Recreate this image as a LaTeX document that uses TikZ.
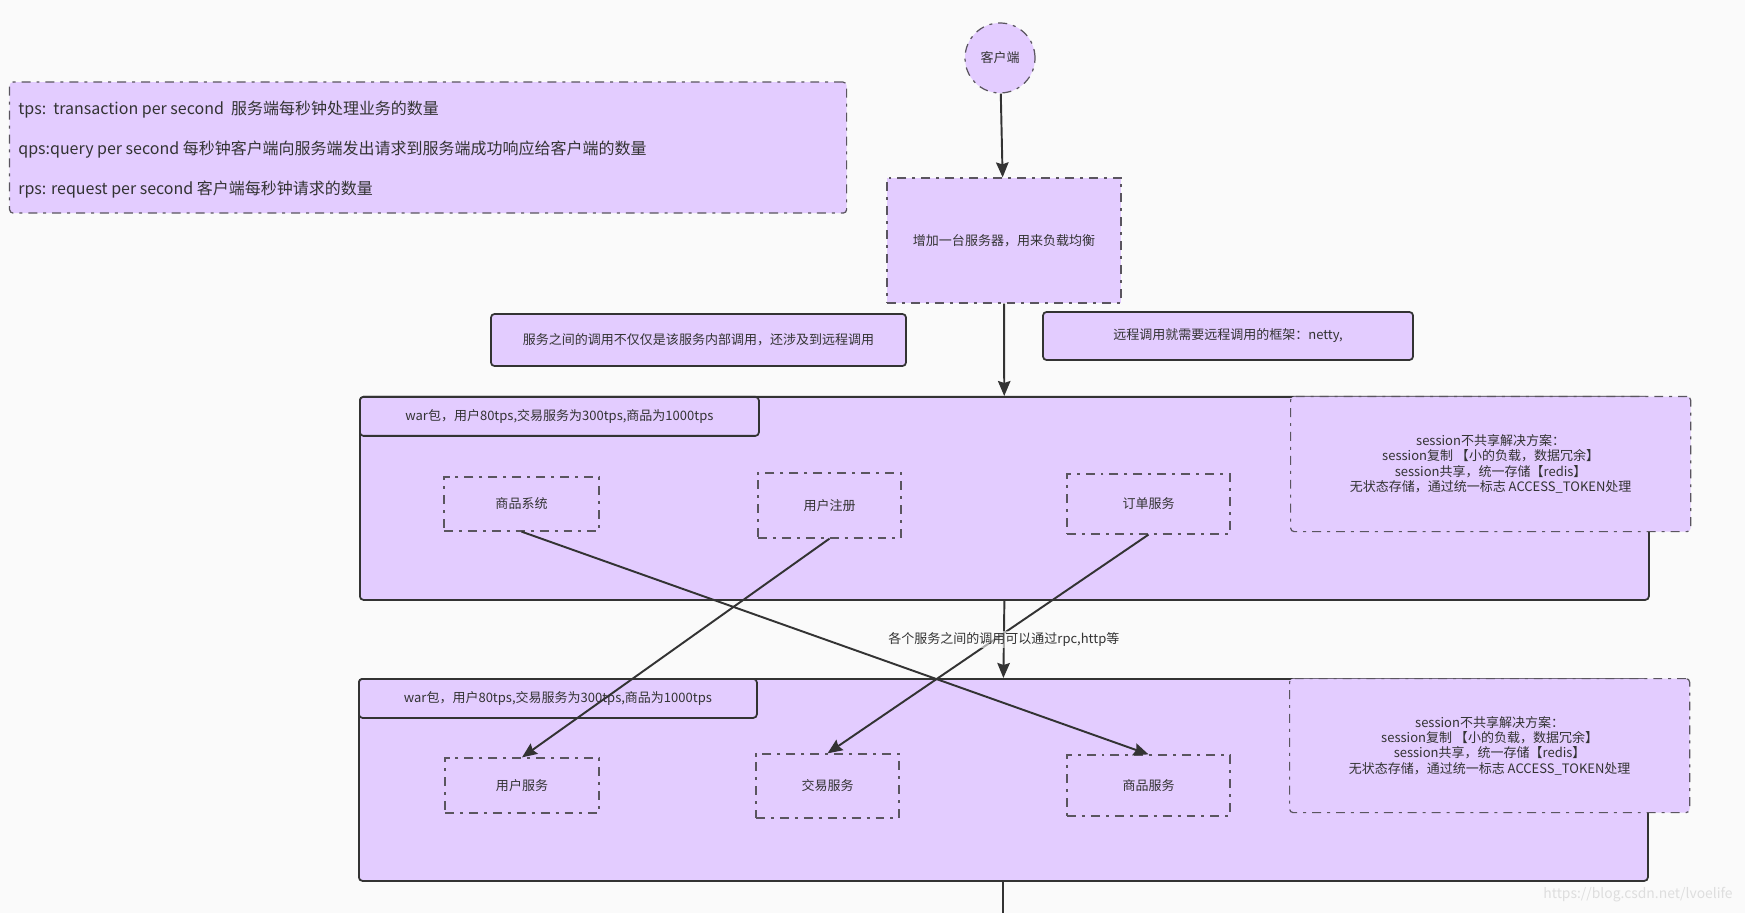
\documentclass[tikz,border=0pt]{standalone}
\usepackage{fontspec}
\setmainfont{Noto Sans CJK SC}
\usetikzlibrary{shapes,arrows,positioning,calc,arrows.meta}
\definecolor{notepurple}{RGB}{227,204,255}
\definecolor{inkgray}{RGB}{51,51,51}
\definecolor{dashgray}{RGB}{90,85,95}
\definecolor{pagebg}{RGB}{250,250,250}
\definecolor{markgray}{RGB}{222,222,222}

\begin{document}
\begin{tikzpicture}[
    solidbox/.style={rectangle, rounded corners=2pt, draw=inkgray, line width=1pt, fill=notepurple, text=inkgray, font=\fontsize{7.4}{8.8}\selectfont, align=center, inner sep=0pt},
    dashbox/.style={rectangle, rounded corners=2pt, draw=dashgray, line width=0.7pt, dash pattern=on 5.1pt off 3.4pt on 1.7pt off 3.4pt, fill=notepurple, text=inkgray, font=\fontsize{7.4}{8.8}\selectfont, align=center, inner sep=0pt},
    svc/.style={dashbox, rounded corners=0pt},
    legendtext/.style={anchor=west, text=inkgray, font=\fontsize{9.1}{11}\selectfont, inner sep=0pt},
    flow/.style={-{Stealth[length=0.3cm, width=0.25cm, inset=0.04cm]}, line width=1.1pt, inkgray},
    link/.style={line width=1.1pt, inkgray}
]

% Page background
\fill[pagebg] (0,0) rectangle (34.9,-18.26);

% Legend of tps / qps / rps
\node[dashbox, anchor=north west, minimum width=16.74cm, minimum height=2.62cm] (legend) at (0.18,-1.63) {};
\node[legendtext] (tps) at (0.36,-2.2) {tps:\ \ transaction per second\ \ 服务端每秒钟处理业务的数量};
\node[legendtext] (qps) at (0.36,-3.0) {qps:query per second 每秒钟客户端向服务端发出请求到服务端成功响应给客户端的数量};
\node[legendtext] (rps) at (0.36,-3.8) {rps: request per second 客户端每秒钟请求的数量};

% Client and load balancer
\node[dashbox, circle, minimum size=1.4cm] (client) at (20,-1.16) {客户端};
\node[svc, minimum width=4.68cm, minimum height=2.5cm] (lb) at (20.08,-4.81) {增加一台服务器，用来负载均衡};

% Notes
\node[solidbox, minimum width=8.3cm, minimum height=1.04cm] (callnote) at (13.97,-6.8) {服务之间的调用不仅仅是该服务内部调用，还涉及到远程调用};
\node[solidbox, minimum width=7.4cm, minimum height=0.96cm] (rpcnote) at (24.56,-6.72) {远程调用就需要远程调用的框架：netty,};

% First war package
\node[solidbox, anchor=north west, minimum width=25.78cm, minimum height=4.06cm] (war1) at (7.18,-7.92) {};
\node[solidbox, anchor=north west, minimum width=7.98cm, minimum height=0.78cm] (war1head) at (war1.north west) {war包，用户80tps,交易服务为300tps,商品为1000tps};
\node[dashbox, anchor=north west, minimum width=8cm, minimum height=2.7cm] (session1) at (25.8,-7.92) {session不共享解决方案：\\session复制 【小的负载，数据冗余】\\session共享，统一存储【redis】\\无状态存储，通过统一标志 ACCESS\_TOKEN处理};
\node[svc, minimum width=3.1cm, minimum height=1.08cm] (goodssys) at (10.43,-10.08) {商品系统};
\node[svc, minimum width=2.86cm, minimum height=1.3cm] (userreg) at (16.59,-10.11) {用户注册};
\node[svc, minimum width=3.26cm, minimum height=1.2cm] (ordersvc) at (22.97,-10.08) {订单服务};

% Second war package
\node[solidbox, anchor=north west, minimum width=25.78cm, minimum height=4.04cm] (war2) at (7.16,-13.56) {};
\node[solidbox, anchor=north west, minimum width=7.96cm, minimum height=0.78cm] (war2head) at (war2.north west) {war包，用户80tps,交易服务为300tps,商品为1000tps};
\node[dashbox, anchor=north west, minimum width=8cm, minimum height=2.68cm] (session2) at (25.78,-13.56) {session不共享解决方案：\\session复制 【小的负载，数据冗余】\\session共享，统一存储【redis】\\无状态存储，通过统一标志 ACCESS\_TOKEN处理};
\node[svc, minimum width=3.08cm, minimum height=1.1cm] (usersvc) at (10.44,-15.71) {用户服务};
\node[svc, minimum width=2.86cm, minimum height=1.28cm] (tradesvc) at (16.55,-15.72) {交易服务};
\node[svc, minimum width=3.26cm, minimum height=1.22cm] (goodssvc) at (22.97,-15.71) {商品服务};

% Calls between services
\draw[flow] (goodssys.south) -- (goodssvc.north);
\draw[flow] (userreg.south) -- (usersvc.north);
\draw[flow] (ordersvc.south) -- (tradesvc.north);

% Main flow
\draw[flow] (client) -- (lb);
\draw[flow] (lb) -- (war1);
\draw[flow] (war1.south) -- (war2.north) node[midway, fill=pagebg, fill opacity=0.6, text opacity=1, inner sep=1pt, text=inkgray, font=\fontsize{7.4}{8.8}\selectfont] (rpclabel) {各个服务之间的调用可以通过rpc,http等};
\coordinate (exit) at (war2.south |- 0,-18.26);
\draw[link] (war2.south) -- (exit);

% Watermark
\node[text=markgray, font=\fontsize{7.9}{9}\selectfont] (mark) at (32.76,-17.9) {https://blog.csdn.net/lvoelife};

\end{tikzpicture}
\end{document}
